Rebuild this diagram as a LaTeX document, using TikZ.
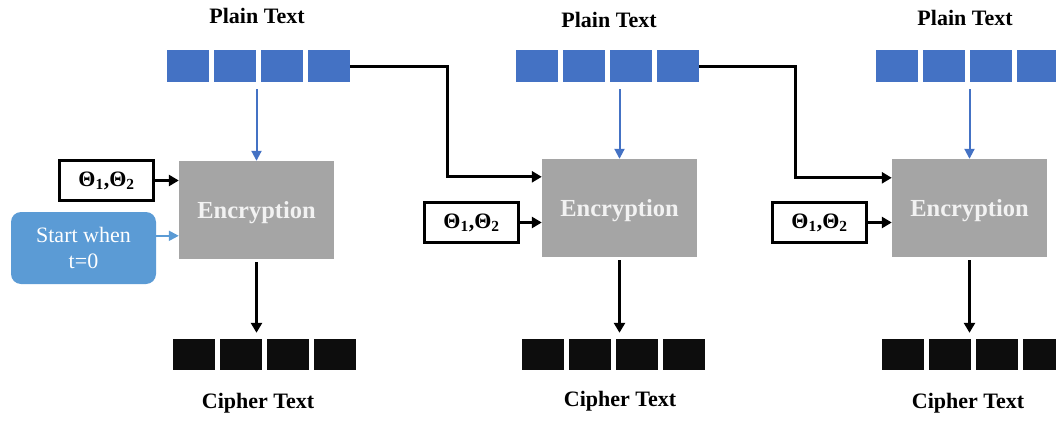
\documentclass[tikz,border=0pt]{standalone}
\usepackage{fontspec}
\setmainfont{Liberation Serif}
\usepackage{xcolor}
\usetikzlibrary{arrows.meta,positioning,calc}

\definecolor{plainblue}{HTML}{4472C4}
\definecolor{startblue}{HTML}{5B9BD5}
\definecolor{encgray}{HTML}{A5A5A5}
\definecolor{cipherblack}{HTML}{0D0D0D}

\tikzset{
	plainblock/.style={fill=plainblue,minimum width=42pt,minimum height=32pt,inner sep=0pt},
	cipherblock/.style={fill=cipherblack,minimum width=42pt,minimum height=31pt,inner sep=0pt},
	encbox/.style={fill=encgray,minimum width=155pt,minimum height=98pt,inner sep=0pt,
		text height=22pt,text depth=5pt,
		text=white!95!black,font=\fontsize{24.5}{28}\selectfont\bfseries},
	thetabox/.style={draw=black,line width=3pt,fill=white,minimum width=94pt,minimum height=40pt,
		inner sep=0pt,font=\fontsize{22}{26}\selectfont\bfseries},
	startbox/.style={fill=startblue,rounded corners=10pt,minimum width=145pt,minimum height=72pt,
		inner sep=0pt,align=center,text=white,font=\fontsize{22}{26}\selectfont},
	title/.style={font=\fontsize{22}{26}\selectfont\bfseries},
	link/.style={line width=3pt,-{Triangle[length=10pt,width=11pt]}},
	bluelink/.style={plainblue,line width=2pt,-{Triangle[length=10pt,width=10pt]}},
	startlink/.style={startblue,line width=2pt,-{Triangle[length=10pt,width=10pt]}}
}

\begin{document}
\begin{tikzpicture}[x=1pt,y=-1pt]
	\useasboundingbox (0,0) rectangle (1056,420);
	% blocks of plain text and cipher text
	\foreach \s/\px/\cx in {1/167/173,2/516/522,3/876/882}{
		\foreach \k in {0,...,3}{
			\node[plainblock] (p\s-\k) at (\px+21+47*\k,66) {};
			\node[cipherblock] (c\s-\k) at (\cx+21+47*\k,354.5) {};
		}
	}
	% titles
	\node[title] (pt1) at (257,16) {Plain Text};
	\node[title] (pt2) at (609,20) {Plain Text};
	\node[title] (pt3) at (965,18) {Plain Text};
	\node[title] (ct1) at (258,403) {Cipher Text};
	\node[title] (ct2) at (620,401) {Cipher Text};
	\node[title] (ct3) at (968,403) {Cipher Text};
	% encryption stages
	\node[encbox] (enc1) at (256.5,210) {Encryption};
	\node[encbox] (enc2) at (619.5,208) {Encryption};
	\node[encbox] (enc3) at (969.5,208) {Encryption};
	\node[thetabox] (th1) at (106.5,180.5) {Θ\textsubscript{1},Θ\textsubscript{2}};
	\node[thetabox] (th2) at (471.5,222.5) {Θ\textsubscript{1},Θ\textsubscript{2}};
	\node[thetabox] (th3) at (819.5,222.5) {Θ\textsubscript{1},Θ\textsubscript{2}};
	\node[startbox] (start) at (83.5,248) {Start when\\t=0};
	% connectors
	\foreach \s in {1,2,3}{
		\draw[bluelink] ([yshift=-7pt]enc\s.north |- p\s-0.south) -- (enc\s.north);
		\draw[link] ([yshift=-3pt]enc\s.south) -- ([yshift=6pt]enc\s.south |- c\s-0.north);
		\draw[link] (th\s.east) -- (th\s.east -| enc\s.west);
	}
	\draw[startlink] ([yshift=-24pt]start.north east) -- ([yshift=-24pt]start.north east -| enc1.west);
	\draw[link] (p1-3.east) -- ++(97,0) |- ([yshift=-18pt]enc2.north west);
	\draw[link] (p2-3.east) -- ++(96,0) |- ([yshift=-19pt]enc3.north west);
\end{tikzpicture}
\end{document}
